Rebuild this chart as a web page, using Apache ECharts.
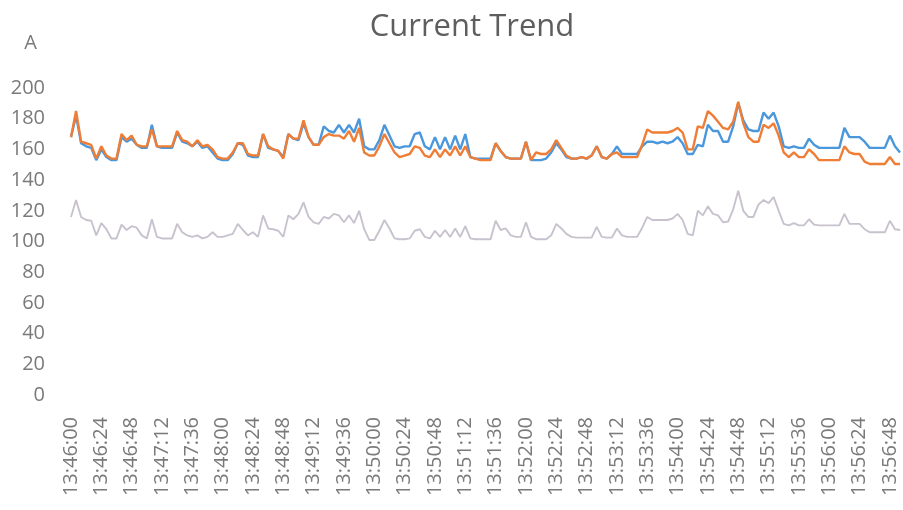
<!DOCTYPE html>
<html>
<head>
<meta charset="utf-8">
<script src="https://cdn.jsdelivr.net/npm/echarts@6/dist/echarts.min.js"></script>
<style>html,body{margin:0;padding:0;background:#fff;}#c{width:903px;height:510px;}</style>
</head>
<body>
<div id="c"></div>
<script>
// Time categories: every 4 s from 13:46:00
const startTime = '13:46:00';
const stepSeconds = 4;
const pointCount = 165;
const categories = [];
(function(){
  const p = startTime.split(':').map(Number);
  let t = p[0]*3600 + p[1]*60 + p[2];
  const pad = n => (n < 10 ? '0' : '') + n;
  for (let i = 0; i < pointCount; i++) {
    const s = t + i*stepSeconds;
    categories.push(pad(Math.floor(s/3600)) + ':' + pad(Math.floor(s%3600/60)) + ':' + pad(s%60));
  }
})();

const yTicks = [0, 20, 40, 60, 80, 100, 120, 140, 160, 180, 200];

const seriesBlue = [
168,182,164,162,161,153,160,155,153,153,
168,165,167,163,161,161,176,162,161,161,
161,171,165,164,162,165,161,162,158,154,
153,153,157,164,163,156,155,155,170,161,
160,159,155,170,167,166,177,168,163,163,
175,172,171,176,171,176,171,180,162,160,
160,166,176,169,162,161,162,162,170,171,
162,160,168,160,168,160,169,160,170,155,
154,154,154,154,164,159,155,154,154,154,
165,153,153,153,154,158,164,160,155,154,
154,155,154,156,162,155,154,157,162,157,
157,157,157,162,165,165,164,165,164,165,
168,164,157,157,163,162,176,172,172,165,
165,175,190,179,173,172,172,184,180,184,
175,162,161,162,161,161,167,163,161,161,
161,161,161,174,168,168,168,165,161,161,
161,161,169,162,158
];

const seriesOrange = [
168,185,165,164,163,154,162,156,154,154,
170,166,169,163,162,162,173,162,162,162,
162,172,166,165,162,166,162,163,160,155,
154,154,158,164,164,157,156,156,170,162,
160,159,154,170,167,167,179,168,163,163,
168,170,169,169,167,172,165,174,158,156,
156,162,170,164,158,155,156,157,162,161,
156,155,160,155,160,156,162,156,162,155,
154,153,153,153,164,159,155,154,154,154,
165,153,158,157,157,160,166,161,156,154,
154,155,154,156,162,155,154,157,158,155,
155,155,155,163,173,171,171,171,171,172,
174,171,160,160,175,174,185,182,178,174,
173,178,191,177,168,165,165,176,174,177,
169,158,155,158,155,155,160,157,153,153,
153,153,153,162,158,157,157,152,150.5,150.5,
150.5,150.5,155,150.5,150.5
];

const seriesGrey = [
116,127,116,114,113.5,104,112,108,102,102,
111,107.5,110,109,104,102,114.5,103,102,102,
102,111.5,106,104,103,104,102,103,106,103,
103,104,105,111.5,107.5,104,106,103,117,108.5,
108,107,103,117,114.5,118,125.5,116,112.5,111.5,
116,115,118,117,112.5,117,112,120,108,101,
101,107,114,108.5,102,101.5,101.5,102,107,108,
103,102,107,103,107.5,103,108.5,103,110,102,
101.5,101.5,101.5,101.5,113.5,107.5,108.5,104,103,103,
112.5,103,101.5,101.5,101.5,104,111.5,108.5,105,103,
102.5,102.5,102.5,102.5,109.5,103,102.5,102.5,108.5,104,
103,103,103,109,116,114,114,114,114,115,
118,114,105,104,120,117,123,118,117,112.5,
113,121,133,120,116,116,124,127,125,129,
120,111.5,110.5,112,110.5,110.5,114.5,111,110.5,110.5,
110.5,110.5,110.5,118,111.5,111.5,111.5,108,106,106,
106,106,113.5,108,107.5
];

const FONT = '"Open Sans", "Noto Sans", sans-serif';
const LABEL_COLOR = '#7a7a7a';
const chart = echarts.init(document.getElementById('c'), null, {renderer: 'canvas'});
chart.setOption({
  backgroundColor: '#ffffff',
  animation: false,
  title: {
    text: 'Current Trend',
    left: 467,
    textAlign: 'center',
    top: 7,
    textStyle: {fontFamily: FONT, fontSize: 31, fontWeight: 'normal', color: '#5e5e5e'}
  },
  grid: {left: 71, right: 3, top: 88, bottom: 115, containLabel: false},
  xAxis: {
    type: 'category',
    data: categories,
    boundaryGap: false,
    axisLine: {show: false},
    axisTick: {show: false},
    splitLine: {show: false},
    axisLabel: {
      interval: 5,
      rotate: 90,
      margin: 22,
      fontFamily: FONT,
      fontSize: 20,
      color: LABEL_COLOR
    }
  },
  yAxis: {
    type: 'value',
    min: yTicks[0],
    max: yTicks[yTicks.length - 1],
    interval: yTicks[1] - yTicks[0],
    name: 'A',
    nameLocation: 'end',
    nameGap: 35,
    nameTextStyle: {fontFamily: FONT, fontSize: 20, color: LABEL_COLOR, align: 'right', verticalAlign: 'bottom', padding: [0, 34, 0, 0]},
    axisLine: {show: false},
    axisTick: {show: false},
    splitLine: {show: false},
    axisLabel: {margin: 26, fontFamily: FONT, fontSize: 20, color: LABEL_COLOR}
  },
  series: [
    {type: 'line', name: 'I1', data: seriesBlue, showSymbol: false, symbol: 'none',
     lineStyle: {color: '#4a97dc', width: 2.4}, itemStyle: {color: '#4a97dc'}},
    {type: 'line', name: 'I2', data: seriesOrange, showSymbol: false, symbol: 'none',
     lineStyle: {color: '#ef7d35', width: 2.4}, itemStyle: {color: '#ef7d35'}},
    {type: 'line', name: 'I3', data: seriesGrey, showSymbol: false, symbol: 'none',
     lineStyle: {color: '#c8c2ce', width: 1.9}, itemStyle: {color: '#c8c2ce'}}
  ]
});
</script>
</body>
</html>
